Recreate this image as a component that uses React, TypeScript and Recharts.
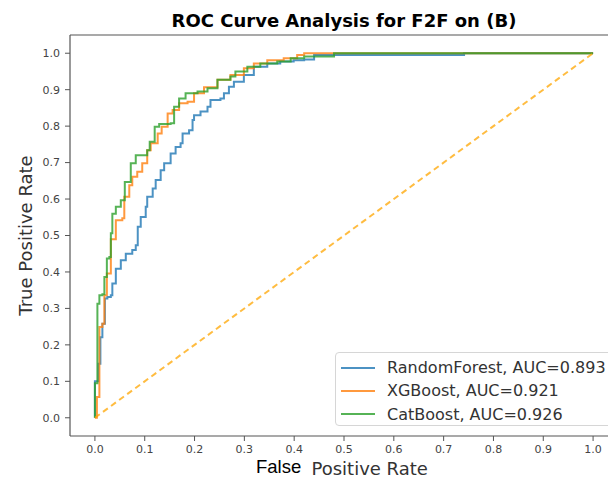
import React from 'react';
import { LineChart, Line, XAxis, YAxis, Legend, ReferenceLine } from 'recharts';

// ROC points (fpr / tpr pairs, step corners)
const rfFpr = [0, 0, 0.007, 0.011, 0.015, 0.02, 0.025, 0.032, 0.035, 0.042, 0.052, 0.062, 0.075, 0.082, 0.086, 0.092, 0.102, 0.105, 0.116, 0.122, 0.132, 0.139, 0.152, 0.162, 0.172, 0.176, 0.189, 0.196, 0.199, 0.212, 0.226, 0.232, 0.252, 0.259, 0.269, 0.279, 0.299, 0.319, 0.346, 0.372, 0.399, 0.42, 0.44, 0.741, 1.0];
const rfTpr = [0, 0.1, 0.148, 0.221, 0.258, 0.327, 0.331, 0.336, 0.368, 0.409, 0.432, 0.45, 0.46, 0.473, 0.524, 0.551, 0.579, 0.606, 0.629, 0.652, 0.679, 0.698, 0.725, 0.743, 0.753, 0.78, 0.789, 0.817, 0.83, 0.84, 0.853, 0.872, 0.876, 0.89, 0.908, 0.922, 0.94, 0.963, 0.972, 0.977, 0.981, 0.983, 0.995, 1.0, 1.0];

const xgbFpr = [0, 0.004, 0.009, 0.015, 0.019, 0.024, 0.032, 0.042, 0.055, 0.059, 0.069, 0.075, 0.085, 0.095, 0.105, 0.112, 0.126, 0.134, 0.146, 0.156, 0.169, 0.186, 0.199, 0.219, 0.246, 0.272, 0.299, 0.319, 0.346, 0.379, 0.406, 0.42, 1.0];
const xgbTpr = [0, 0.057, 0.249, 0.258, 0.336, 0.396, 0.49, 0.542, 0.547, 0.606, 0.638, 0.661, 0.675, 0.698, 0.734, 0.753, 0.78, 0.798, 0.835, 0.844, 0.863, 0.867, 0.89, 0.907, 0.927, 0.94, 0.959, 0.972, 0.981, 0.986, 0.995, 1.0, 1.0];

const catFpr = [0, 0, 0.005, 0.009, 0.015, 0.019, 0.024, 0.029, 0.032, 0.035, 0.042, 0.052, 0.06, 0.072, 0.082, 0.105, 0.11, 0.12, 0.129, 0.152, 0.159, 0.169, 0.182, 0.206, 0.226, 0.246, 0.272, 0.282, 0.306, 0.332, 0.366, 0.393, 0.42, 0.48, 1.0];
const catTpr = [0, 0.095, 0.313, 0.336, 0.339, 0.386, 0.437, 0.441, 0.506, 0.56, 0.579, 0.597, 0.647, 0.698, 0.72, 0.734, 0.757, 0.798, 0.806, 0.808, 0.853, 0.876, 0.89, 0.895, 0.904, 0.927, 0.936, 0.95, 0.963, 0.972, 0.977, 0.986, 0.991, 1.0, 1.0];

const chanceFpr = [0, 1];
const chanceTpr = [0, 1];

const seriesNames = ['RandomForest, AUC=0.893', 'XGBoost, AUC=0.921', 'CatBoost, AUC=0.926'];
const seriesColors = ['#1f77b4', '#ff7f0e', '#2ca02c'];
const ticks = [0, 0.1, 0.2, 0.3, 0.4, 0.5, 0.6, 0.7, 0.8, 0.9, 1.0];

const toPoints = (fpr: number[], tpr: number[]) => fpr.map((x, i) => ({ fpr: x, tpr: tpr[i] }));

const font = 'DejaVu Sans, sans-serif';
const tickStyle = { fontFamily: font, fontSize: 11, fill: '#444' };

const RocLegend = () => (
  <div
    style={{
      width: 290,
      height: 74,
      boxSizing: 'border-box',
      border: '1px solid #d6d6d6',
      borderRadius: 4,
      background: 'rgba(255,255,255,0.85)',
      fontFamily: font,
      fontSize: 16,
      color: '#333',
      paddingTop: 3,
    }}
  >
    {seriesNames.map((name, i) => (
      <div key={name} style={{ display: 'flex', alignItems: 'center', height: 23.3 }}>
        <div style={{ width: 34, height: 2, marginLeft: 5, marginRight: 12, background: seriesColors[i], opacity: 0.8 }} />
        <span style={{ whiteSpace: 'nowrap' }}>{name}</span>
      </div>
    ))}
  </div>
);

const App = () => {
  return (
    <div style={{ position: 'absolute', left: 0, top: 0, width: 608, height: 481, overflow: 'hidden', background: '#fff' }}>
      <LineChart width={640} height={481} margin={{ top: 35, right: 22, bottom: 0, left: 0 }}>
        <XAxis
          type="number"
          dataKey="fpr"
          domain={[-0.05, 1.05]}
          ticks={ticks}
          tickFormatter={(v: number) => v.toFixed(1)}
          tick={tickStyle}
          tickSize={5}
          tickMargin={4}
          height={45}
          axisLine={{ stroke: '#555', strokeWidth: 1.2 }}
          tickLine={{ stroke: '#555' }}
          allowDataOverflow
        />
        <YAxis
          type="number"
          dataKey="tpr"
          domain={[-0.05, 1.05]}
          ticks={ticks}
          tickFormatter={(v: number) => v.toFixed(1)}
          tick={tickStyle}
          tickSize={5}
          tickMargin={5}
          width={70}
          axisLine={{ stroke: '#555', strokeWidth: 1.2 }}
          tickLine={{ stroke: '#555' }}
          allowDataOverflow
        />
        <ReferenceLine y={1.05} stroke="#555" strokeWidth={1.2} />
        <Line data={toPoints(rfFpr, rfTpr)} dataKey="tpr" type="stepAfter" stroke={seriesColors[0]} strokeOpacity={0.8} strokeWidth={2} dot={false} isAnimationActive={false} name={seriesNames[0]} />
        <Line data={toPoints(xgbFpr, xgbTpr)} dataKey="tpr" type="stepAfter" stroke={seriesColors[1]} strokeOpacity={0.8} strokeWidth={2} dot={false} isAnimationActive={false} name={seriesNames[1]} />
        <Line data={toPoints(catFpr, catTpr)} dataKey="tpr" type="stepAfter" stroke={seriesColors[2]} strokeOpacity={0.8} strokeWidth={2} dot={false} isAnimationActive={false} name={seriesNames[2]} />
        <Line data={toPoints(chanceFpr, chanceTpr)} dataKey="tpr" type="linear" stroke="#ffa500" strokeOpacity={0.75} strokeWidth={2} strokeDasharray="6 4" dot={false} isAnimationActive={false} legendType="none" />
        <Legend
          layout="vertical"
          align="center"
          verticalAlign="middle"
          content={<RocLegend />}
          wrapperStyle={{ left: 335, top: 352, width: 290, height: 74 }}
        />
        <text x={344} y={27} textAnchor="middle" style={{ fontFamily: font, fontSize: 18, fontWeight: 'bold', fill: '#000' }}>
          ROC Curve Analysis for F2F on (B)
        </text>
        <text transform="rotate(-90)" x={-235.5} y={32} textAnchor="middle" style={{ fontFamily: font, fontSize: 18, fill: '#333' }}>
          True Positive Rate
        </text>
        <text x={256} y={473} style={{ fontFamily: 'Liberation Sans, Arial, sans-serif', fontSize: 18.5, fill: '#000' }}>
          False
        </text>
        <text x={311.5} y={475} style={{ fontFamily: font, fontSize: 18, fill: '#333' }}>
          Positive Rate
        </text>
      </LineChart>
    </div>
  );
};

export default App;
